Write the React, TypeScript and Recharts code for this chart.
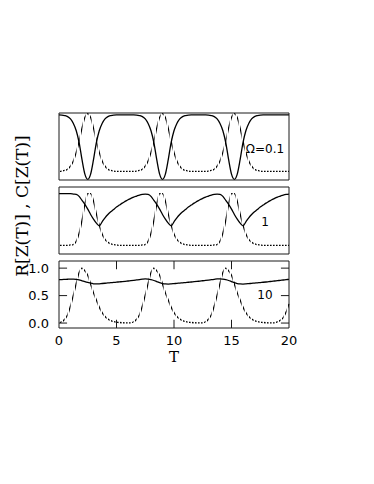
import React from 'react';
import { LineChart, Line, XAxis, YAxis, ReferenceLine } from 'recharts';

const T_VALUES = [0,0.25,0.5,0.75,1,1.25,1.5,1.75,2,2.25,2.5,2.75,3,3.25,3.5,3.75,4,4.25,4.5,4.75,5,5.25,5.5,5.75,6,6.25,6.5,6.75,7,7.25,7.5,7.75,8,8.25,8.5,8.75,9,9.25,9.5,9.75,10,10.25,10.5,10.75,11,11.25,11.5,11.75,12,12.25,12.5,12.75,13,13.25,13.5,13.75,14,14.25,14.5,14.75,15,15.25,15.5,15.75,16,16.25,16.5,16.75,17,17.25,17.5,17.75,18,18.25,18.5,18.75,19,19.25,19.5,19.75,20];

// Omega = 0.1
const R_OMEGA_01 = [0.98,0.978,0.97,0.955,0.92,0.85,0.74,0.56,0.3,0.08,0.0,0.08,0.3,0.56,0.74,0.85,0.92,0.955,0.97,0.978,0.98,0.98,0.98,0.98,0.98,0.98,0.98,0.978,0.97,0.955,0.92,0.85,0.74,0.56,0.3,0.08,0.0,0.08,0.3,0.56,0.74,0.85,0.92,0.955,0.97,0.978,0.98,0.98,0.98,0.98,0.98,0.98,0.978,0.97,0.955,0.92,0.85,0.74,0.56,0.3,0.08,0.0,0.08,0.3,0.56,0.74,0.85,0.92,0.955,0.97,0.978,0.98,0.98,0.98,0.98,0.98,0.98,0.98,0.98,0.98,0.98];
const C_OMEGA_01 = [0.12,0.125,0.135,0.155,0.2,0.28,0.41,0.58,0.78,0.94,1.0,0.94,0.78,0.58,0.41,0.28,0.2,0.155,0.135,0.125,0.12,0.12,0.12,0.12,0.12,0.12,0.12,0.125,0.135,0.155,0.2,0.28,0.41,0.58,0.78,0.94,1.0,0.94,0.78,0.58,0.41,0.28,0.2,0.155,0.135,0.125,0.12,0.12,0.12,0.12,0.12,0.12,0.125,0.135,0.155,0.2,0.28,0.41,0.58,0.78,0.94,1.0,0.94,0.78,0.58,0.41,0.28,0.2,0.155,0.135,0.125,0.12,0.12,0.12,0.12,0.12,0.12,0.12,0.12,0.12,0.12];

// Omega = 1
const R_OMEGA_1 = [0.9,0.9,0.9,0.9,0.9,0.895,0.89,0.86,0.8,0.74,0.67,0.59,0.52,0.46,0.42,0.48,0.54,0.59,0.63,0.665,0.7,0.73,0.76,0.785,0.81,0.83,0.85,0.865,0.88,0.89,0.895,0.89,0.86,0.8,0.74,0.67,0.59,0.52,0.46,0.42,0.48,0.54,0.59,0.63,0.665,0.7,0.73,0.76,0.785,0.81,0.83,0.85,0.865,0.88,0.89,0.895,0.89,0.86,0.8,0.74,0.67,0.59,0.52,0.46,0.42,0.48,0.54,0.59,0.63,0.665,0.7,0.73,0.76,0.785,0.81,0.83,0.85,0.865,0.88,0.89,0.895];
const C_OMEGA_1 = [0.13,0.13,0.13,0.13,0.135,0.14,0.19,0.31,0.5,0.74,0.9,0.9,0.79,0.6,0.43,0.3,0.22,0.175,0.15,0.14,0.135,0.13,0.13,0.13,0.13,0.13,0.13,0.13,0.13,0.135,0.14,0.19,0.31,0.5,0.74,0.9,0.9,0.79,0.6,0.43,0.3,0.22,0.175,0.15,0.14,0.135,0.13,0.13,0.13,0.13,0.13,0.13,0.13,0.13,0.135,0.14,0.19,0.31,0.5,0.74,0.9,0.9,0.79,0.6,0.43,0.3,0.22,0.175,0.15,0.14,0.135,0.13,0.13,0.13,0.13,0.13,0.13,0.13,0.13,0.13,0.13];

// Omega = 10
const R_OMEGA_10 = [0.79,0.792,0.795,0.798,0.8,0.8,0.795,0.785,0.77,0.755,0.74,0.725,0.715,0.712,0.714,0.72,0.725,0.73,0.735,0.74,0.745,0.75,0.755,0.76,0.766,0.772,0.778,0.785,0.792,0.8,0.805,0.8,0.79,0.775,0.755,0.735,0.72,0.712,0.71,0.713,0.718,0.723,0.728,0.733,0.738,0.743,0.748,0.753,0.758,0.764,0.77,0.776,0.782,0.789,0.796,0.803,0.806,0.8,0.79,0.775,0.755,0.735,0.72,0.712,0.71,0.713,0.718,0.723,0.728,0.733,0.738,0.743,0.748,0.754,0.76,0.766,0.772,0.778,0.784,0.79,0.796];
const C_OMEGA_10 = [0.005,0.025,0.07,0.15,0.31,0.51,0.72,0.92,1.0,0.95,0.87,0.71,0.55,0.42,0.29,0.19,0.12,0.075,0.045,0.028,0.017,0.01,0.006,0.004,0.003,0.005,0.025,0.07,0.15,0.31,0.51,0.72,0.92,1.0,0.95,0.87,0.71,0.55,0.42,0.29,0.19,0.12,0.075,0.045,0.028,0.017,0.01,0.006,0.004,0.003,0.005,0.025,0.07,0.15,0.31,0.51,0.72,0.92,1.0,0.95,0.87,0.71,0.55,0.42,0.29,0.19,0.12,0.075,0.045,0.028,0.017,0.01,0.006,0.004,0.003,0.005,0.02,0.05,0.1,0.2,0.35];

const X_TICKS = [0, 5, 10, 15, 20];
const X_INNER_TICKS = [5, 10, 15];
const Y_TICKS = [0, 0.5, 1];
const PANEL_LABELS = ['Ω=0.1', '1', '10'];
const Y_TITLE = 'R[Z(T)] , C[Z(T)]';
const X_TITLE = 'T';

const W = 374;
const H = 484;
const AXIS = '#1a1a1a';
const FONT_SANS = 'DejaVu Sans, sans-serif';
const TICK_PX = 8;
const X_DOMAIN: [number, number] = [0, 20];

function buildRows(r: number[], c: number[]) {
  return T_VALUES.map((t, i) => ({ T: t, R: r[i], C: c[i] }));
}

const BottomLabel = (p: any) => (
  <text x={p.x} y={p.y + 17} textAnchor="middle" fill="#000" fontSize={13} fontFamily={FONT_SANS}>
    {p.payload.value}
  </text>
);
const LeftLabel = (p: any) => (
  <text x={p.x - 10} y={p.y} dy="0.36em" textAnchor="end" fill="#000" fontSize={13} fontFamily={FONT_SANS}>
    {Number(p.payload.value).toFixed(1)}
  </text>
);

function Panel(props: { top: number; bottom: number; rows: any[]; domain: [number, number]; withTicks: boolean }) {
  const { top, bottom, rows, domain, withTicks } = props;
  const line = { stroke: AXIS, strokeWidth: 1 };
  const plotW = W - 59 - 85 - 2;
  const plotH = bottom - top - 2;
  const dy = (TICK_PX * (domain[1] - domain[0])) / plotH;
  const dx = (TICK_PX * (X_DOMAIN[1] - X_DOMAIN[0])) / plotW;
  const tickSegs: any[] = [];
  if (withTicks) {
    X_INNER_TICKS.forEach((v) => {
      tickSegs.push([{ x: v, y: domain[1] }, { x: v, y: domain[1] - dy }]);
      tickSegs.push([{ x: v, y: domain[0] }, { x: v, y: domain[0] + dy }]);
    });
    Y_TICKS.forEach((v) => {
      tickSegs.push([{ x: X_DOMAIN[0], y: v }, { x: X_DOMAIN[0] + dx, y: v }]);
      tickSegs.push([{ x: X_DOMAIN[1], y: v }, { x: X_DOMAIN[1] - dx, y: v }]);
    });
  }
  return (
    <div style={{ position: 'absolute', left: 0, top: 0, width: W, height: H }}>
      <LineChart width={W} height={H} data={rows}
        margin={{ top, bottom: H - bottom, left: 59, right: 85 }}>
        <XAxis xAxisId="b" dataKey="T" type="number" domain={X_DOMAIN} ticks={X_TICKS} interval={0} mirror
          height={1} axisLine={line} tickLine={false} tickSize={0} tickMargin={0}
          tick={withTicks ? BottomLabel : false}
          label={withTicks ? { value: X_TITLE, position: 'bottom', offset: 23, fill: '#000', fontSize: 15, fontFamily: 'DejaVu Serif, serif' } : undefined} />
        <XAxis xAxisId="t" orientation="top" dataKey="T" type="number" domain={X_DOMAIN} ticks={X_TICKS} interval={0} mirror
          height={1} axisLine={line} tickLine={false} tick={false} />
        <YAxis yAxisId="l" type="number" domain={domain} ticks={Y_TICKS} interval={0} width={1} mirror
          axisLine={line} tickLine={false} tickSize={0} tickMargin={0}
          tick={withTicks ? LeftLabel : false} />
        <YAxis yAxisId="r" orientation="right" type="number" domain={domain} ticks={Y_TICKS} interval={0} width={1} mirror
          axisLine={line} tickLine={false} tick={false} />
        {tickSegs.map((seg, i) => (
          <ReferenceLine key={i} xAxisId="b" yAxisId="l" segment={seg} stroke={AXIS} strokeWidth={1} ifOverflow="visible" />
        ))}
        <Line xAxisId="b" yAxisId="l" dataKey="R" type="monotone" stroke="#000" strokeWidth={1.3}
          dot={false} activeDot={false} isAnimationActive={false} />
        <Line xAxisId="b" yAxisId="l" dataKey="C" type="monotone" stroke="#000" strokeWidth={1.3}
          dot={false} activeDot={false} isAnimationActive={false} className="xdash" />
      </LineChart>
    </div>
  );
}

export default function App() {
  const rows1 = buildRows(R_OMEGA_01, C_OMEGA_01);
  const rows2 = buildRows(R_OMEGA_1, C_OMEGA_1);
  const rows3 = buildRows(R_OMEGA_10, C_OMEGA_10);
  return (
    <div style={{ position: 'absolute', left: 0, top: 0, width: W, height: H, background: '#fff' }}>
      <style>{`.xdash { mask: url(#xdash); }`}</style>
      <svg width={W} height={H} style={{ position: 'absolute', left: 0, top: 0 }}>
        <defs>
          <pattern id="xstripe" patternUnits="userSpaceOnUse" x="0" y="0" width="3" height="4">
            <rect x="0" y="0" width="1.6" height="4" fill="#fff" />
          </pattern>
          <mask id="xdash" maskUnits="userSpaceOnUse" x="0" y="0" width={W} height={H}>
            <rect x="0" y="0" width={W} height={H} fill="url(#xstripe)" />
          </mask>
        </defs>
        <text transform="translate(22,206) rotate(-90)" textAnchor="middle" dominantBaseline="central"
          fontFamily="DejaVu Serif, serif" fontSize={17} fill="#000">{Y_TITLE}</text>
        <text x={265} y={149} textAnchor="middle" dominantBaseline="central" fontFamily={FONT_SANS} fontSize={12} fill="#000">{PANEL_LABELS[0]}</text>
        <text x={265} y={222} textAnchor="middle" dominantBaseline="central" fontFamily={FONT_SANS} fontSize={12} fill="#000">{PANEL_LABELS[1]}</text>
        <text x={265} y={295} textAnchor="middle" dominantBaseline="central" fontFamily={FONT_SANS} fontSize={12} fill="#000">{PANEL_LABELS[2]}</text>
      </svg>
      <Panel top={113} bottom={180} rows={rows1} domain={[-0.01, 1.01]} withTicks={false} />
      <Panel top={187} bottom={254} rows={rows2} domain={[0, 1]} withTicks={false} />
      <Panel top={261} bottom={328} rows={rows3} domain={[-0.09, 1.13]} withTicks={true} />
    </div>
  );
}
